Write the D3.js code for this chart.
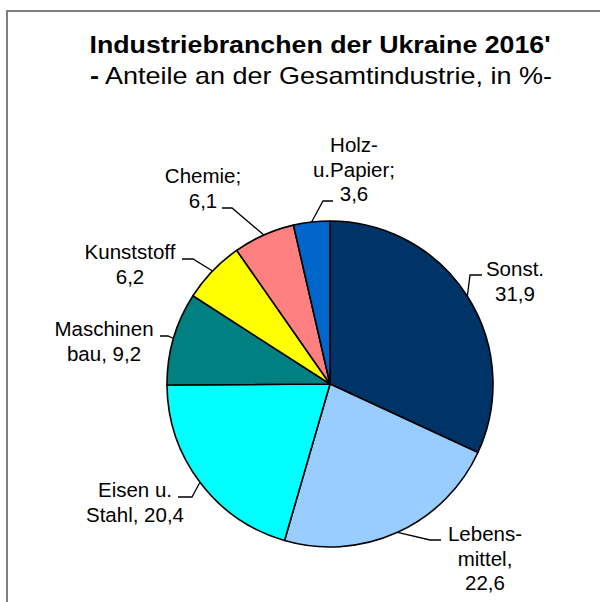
<!DOCTYPE html>
<html>
<head>
<meta charset="utf-8">
<script src="https://cdn.jsdelivr.net/npm/d3@7"></script>
<style>
  html, body { margin: 0; padding: 0; background: #fff; }
  svg { display: block; font-family: "Liberation Sans", Arial, sans-serif; }
</style>
</head>
<body>
<svg id="chart" width="600" height="602"></svg>
<script>
// ---- data ----
const categories = ["Sonst.", "Lebensmittel", "Eisen u. Stahl", "Maschinenbau", "Kunststoff", "Chemie", "Holz u. Papier"];
const values = [31.9, 22.6, 20.4, 9.2, 6.2, 6.1, 3.6];
const labelLines = [
  ["Sonst.", "31,9"],
  ["Lebens-", "mittel,", "22,6"],
  ["Eisen u.", "Stahl, 20,4"],
  ["Maschinen", "bau, 9,2"],
  ["Kunststoff", "6,2"],
  ["Chemie;", "6,1"],
  ["Holz-", "u.Papier;", "3,6"]
];
const titleText = "Industriebranchen der Ukraine 2016'";
const subtitleText = "Anteile an der Gesamtindustrie, in %-";

// ---- styles / layout ----
const colors = ["#003366", "#99CCFF", "#00FFFF", "#008080", "#FFFF00", "#FF8080", "#0066CC"];
const cx = 330, cy = 384, radius = 163;
// label layout: text center x, first baseline y, leader elbow and end points
const labelLayout = [
  { x: 515, y: 276, elbow: [470, 275], end: [482, 275] },
  { x: 485, y: 541, elbow: [430, 540], end: [441, 540] },
  { x: 135, y: 497, elbow: [192, 497], end: [178, 497] },
  { x: 104, y: 336, elbow: [168, 336], end: [160, 336] },
  { x: 130, y: 259, elbow: [193, 259], end: [182, 259] },
  { x: 203, y: 183, elbow: [232, 208], end: [222, 208] },
  { x: 354, y: 152, elbow: [323, 201], end: [333, 201] }
];
const lineHeight = 24.5;

const svg = d3.select("#chart");

// frame
svg.append("rect")
  .attr("x", 7).attr("y", 11)
  .attr("width", 640).attr("height", 640)
  .attr("fill", "none").attr("stroke", "#808080").attr("stroke-width", 2);

// titles
svg.append("text")
  .attr("x", 320).attr("y", 53)
  .attr("text-anchor", "middle")
  .attr("font-size", 24).attr("font-weight", "bold")
  .attr("fill", "#000")
  .attr("textLength", 461).attr("lengthAdjust", "spacingAndGlyphs")
  .text(titleText);

const sub = svg.append("text")
  .attr("x", 90).attr("y", 84)
  .attr("font-size", 24).attr("fill", "#000")
  .attr("textLength", 462).attr("lengthAdjust", "spacingAndGlyphs");
sub.append("tspan").attr("font-weight", "bold").text("-");
sub.append("tspan").text(" " + subtitleText);

// pie
const data = categories.map((c, i) => ({ name: c, value: values[i], i }));
const pie = d3.pie().value(d => d.value).sort(null);
const arcs = pie(data);
const arc = d3.arc().innerRadius(0).outerRadius(radius);

const g = svg.append("g").attr("transform", `translate(${cx},${cy})`);
g.selectAll("path.slice")
  .data(arcs)
  .join("path")
  .attr("class", "slice")
  .attr("d", arc)
  .attr("fill", d => colors[d.data.i])
  .attr("stroke", "#000")
  .attr("stroke-width", 1.6)
  .attr("stroke-linejoin", "round");

// leader lines
const line = d3.line();
arcs.forEach(a => {
  const mid = (a.startAngle + a.endAngle) / 2;
  const px = cx + radius * Math.sin(mid);
  const py = cy - radius * Math.cos(mid);
  const L = labelLayout[a.data.i];
  svg.append("path")
    .attr("d", line([[px, py], L.elbow, L.end]))
    .attr("fill", "none")
    .attr("stroke", "#000")
    .attr("stroke-width", 1.3);
});

// labels
labelLines.forEach((lines, i) => {
  const L = labelLayout[i];
  const t = svg.append("text")
    .attr("text-anchor", "middle")
    .attr("font-size", 20.5)
    .attr("fill", "#000");
  lines.forEach((s, k) => {
    t.append("tspan").attr("x", L.x).attr("y", L.y + k * lineHeight).text(s);
  });
});
</script>
</body>
</html>
